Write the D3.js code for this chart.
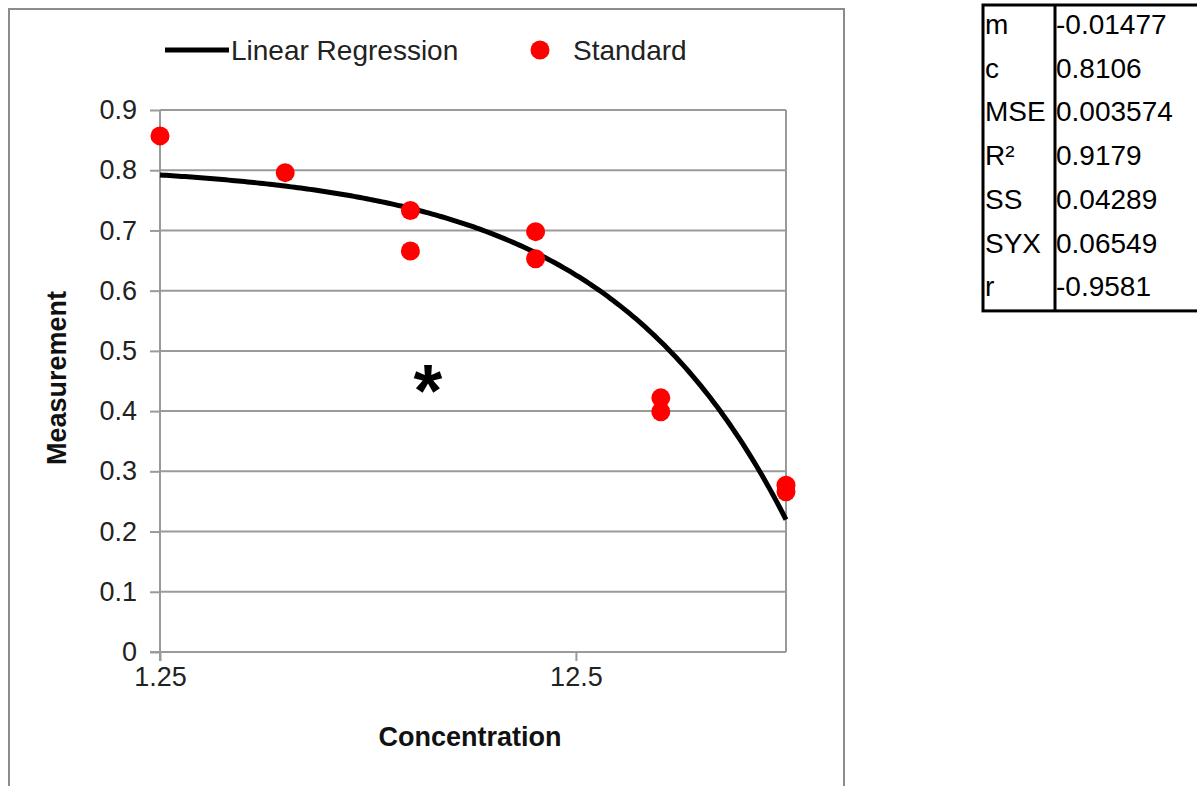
<!DOCTYPE html>
<html><head><meta charset="utf-8">
<script src="https://cdn.jsdelivr.net/npm/d3@7"></script>
<style>html,body{margin:0;padding:0;background:#fff;}svg{display:block;}</style>
</head><body>
<svg id="chart" width="1197" height="786"></svg>
<script>
// ---- data ----
const concentrations = [1.25, 2.5, 5, 10, 20, 40];
const standardX = [1.25, 2.5, 5, 5, 10, 10, 20, 20, 40, 40];
const standardY = [0.857, 0.796, 0.733, 0.666, 0.698, 0.653, 0.422, 0.399, 0.277, 0.266];
const slope = -0.01477;
const intercept = 0.8106;
const yTicks = [0, 0.1, 0.2, 0.3, 0.4, 0.5, 0.6, 0.7, 0.8, 0.9];
const xTicks = [1.25, 12.5];
const statNames = ["m", "c", "MSE", "R²", "SS", "SYX", "r"];
const statValues = ["-0.01477", "0.8106", "0.003574", "0.9179", "0.04289", "0.06549", "-0.9581"];
const legendLabels = ["Linear Regression", "Standard"];

const svg = d3.select("#chart");
const font = "'Liberation Sans', Arial, sans-serif";
const grid = "#9a9a9a";

// outer chart frame
svg.append("rect").attr("x", 9).attr("y", 9).attr("width", 835).attr("height", 800)
  .attr("fill", "none").attr("stroke", "#8c8c8c").attr("stroke-width", 2);

const x = d3.scaleLog().domain([1.25, 40]).range([160, 786]);
const y = d3.scaleLinear().domain([0, 0.9]).range([652, 110]);

// horizontal gridlines
svg.append("g").selectAll("line").data(yTicks.filter(d => d > 0)).join("line")
  .attr("x1", 160).attr("x2", x(40)).attr("y1", d => y(d)).attr("y2", d => y(d))
  .attr("stroke", grid).attr("stroke-width", 2);
// right border of plot
svg.append("line").attr("x1", x(40)).attr("x2", x(40)).attr("y1", y(0.9)).attr("y2", y(0))
  .attr("stroke", grid).attr("stroke-width", 2);

// y axis
const yAxis = svg.append("g").attr("transform", "translate(160,0)")
  .call(d3.axisLeft(y).tickValues(yTicks).tickSize(10).tickPadding(13).tickFormat(d => d === 0 ? "0" : d3.format(".1f")(d)));
yAxis.select(".domain").attr("stroke", grid).attr("stroke-width", 2).attr("d", `M0,${y(0.9)}V${y(0) + 9}`);
yAxis.selectAll(".tick line").attr("stroke", grid).attr("stroke-width", 2);
yAxis.selectAll(".tick text").attr("font-family", font).attr("font-size", 27).attr("fill", "#222");

// x axis
const xAxis = svg.append("g").attr("transform", `translate(0,${y(0)})`)
  .call(d3.axisBottom(x).tickValues(xTicks).tickSize(9).tickPadding(6).tickFormat(d => String(d)));
xAxis.select(".domain").attr("stroke", grid).attr("stroke-width", 2).attr("d", `M150,0H${x(40)}`);
xAxis.selectAll(".tick line").attr("stroke", grid).attr("stroke-width", 2);
xAxis.selectAll(".tick text").attr("font-family", font).attr("font-size", 27).attr("fill", "#222");

// axis titles
svg.append("text").attr("x", 470).attr("y", 746).attr("text-anchor", "middle")
  .attr("font-family", font).attr("font-weight", "bold").attr("font-size", 27).attr("fill", "#111")
  .text("Concentration");
svg.append("text").attr("transform", "translate(66,378) rotate(-90)").attr("text-anchor", "middle")
  .attr("font-family", font).attr("font-weight", "bold").attr("font-size", 27).attr("fill", "#111")
  .text("Measurement");

// regression line y = m x + c on the log axis
const lineXs = d3.range(0, 201).map(i => 1.25 * Math.pow(40 / 1.25, i / 200));
svg.append("path").datum(lineXs)
  .attr("d", d3.line().x(d => x(d)).y(d => y(slope * d + intercept)))
  .attr("fill", "none").attr("stroke", "#000").attr("stroke-width", 5);

// standard points
svg.append("g").selectAll("circle").data(standardX.map((d, i) => [d, standardY[i]])).join("circle")
  .attr("cx", d => x(d[0])).attr("cy", d => y(d[1])).attr("r", 9.5).attr("fill", "#ff0000");

// asterisk
svg.append("text").attr("x", 428).attr("y", 416).attr("text-anchor", "middle")
  .attr("font-family", font).attr("font-weight", "bold").attr("font-size", 74).attr("fill", "#000").text("*");

// legend
svg.append("line").attr("x1", 165).attr("x2", 229).attr("y1", 50).attr("y2", 50)
  .attr("stroke", "#000").attr("stroke-width", 5);
svg.append("text").attr("x", 231).attr("y", 60).attr("font-family", font).attr("font-size", 28).attr("fill", "#222").text(legendLabels[0]);
svg.append("circle").attr("cx", 540).attr("cy", 50).attr("r", 9.5).attr("fill", "#ff0000");
svg.append("text").attr("x", 573).attr("y", 60).attr("font-family", font).attr("font-size", 28).attr("fill", "#222").text(legendLabels[1]);

// stats table
const tX = 983, tY = 5, rowH = 43.7, divX = 1055;
const tbl = svg.append("g");
tbl.append("rect").attr("x", tX).attr("y", tY).attr("width", 240).attr("height", rowH * statNames.length)
  .attr("fill", "none").attr("stroke", "#000").attr("stroke-width", 3);
tbl.append("line").attr("x1", divX).attr("x2", divX).attr("y1", tY).attr("y2", tY + rowH * statNames.length)
  .attr("stroke", "#000").attr("stroke-width", 3);
tbl.selectAll("text.n").data(statNames).join("text").attr("class", "n")
  .attr("x", tX + 2).attr("y", (d, i) => tY + 29 + i * rowH)
  .attr("font-family", font).attr("font-size", 28).attr("fill", "#000").text(d => d);
tbl.selectAll("text.v").data(statValues).join("text").attr("class", "v")
  .attr("x", divX + 1).attr("y", (d, i) => tY + 29 + i * rowH)
  .attr("font-family", font).attr("font-size", 28).attr("fill", "#000").text(d => d);
</script>
</body></html>
